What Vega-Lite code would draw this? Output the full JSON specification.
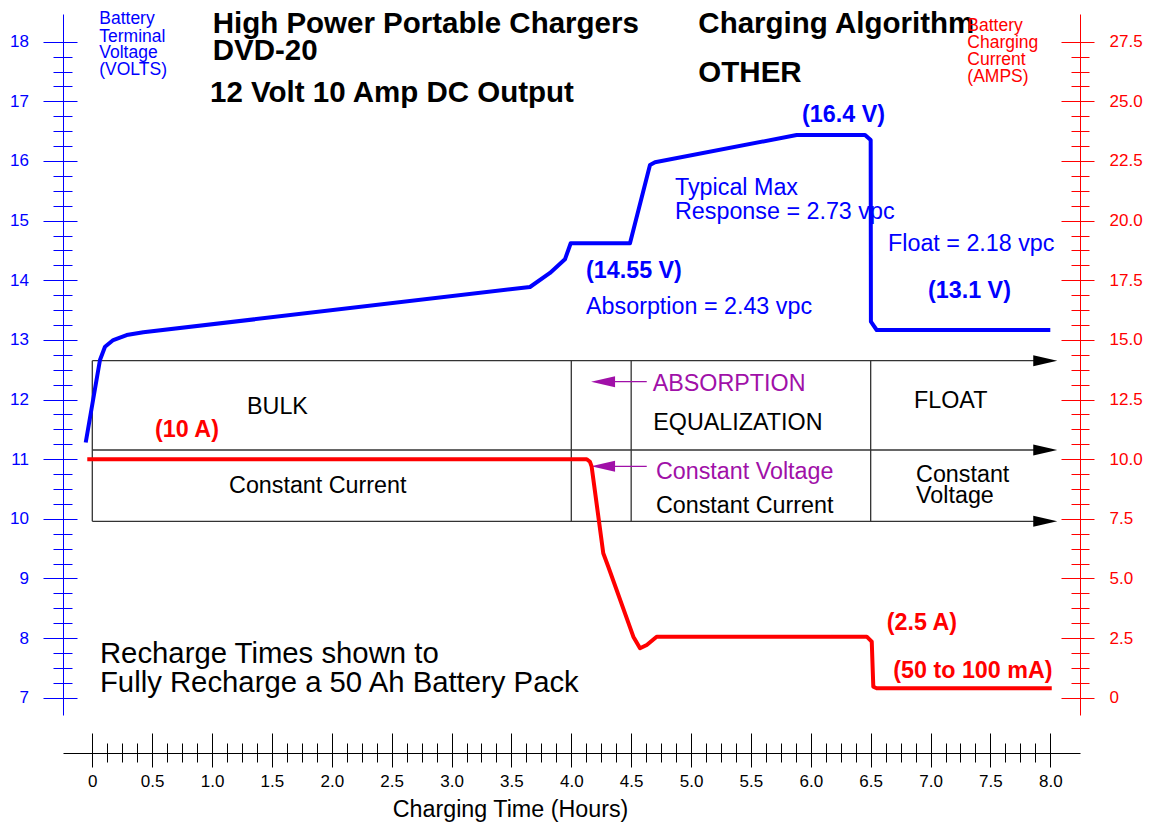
{
  "$schema": "https://vega.github.io/schema/vega-lite/v6.json",
  "width": 1017,
  "height": 701,
  "autosize": "none",
  "padding": {"left": 63, "top": 14, "right": 69, "bottom": 108},
  "background": "white",
  "config": {
    "font": "Liberation Sans",
    "view": {"stroke": null},
    "axis": {"grid": false, "labelOverlap": false, "labelFlush": false, "labelBound": false, "tickWidth": 1, "domainWidth": 1, "labelFont": "Liberation Sans", "titleFont": "Liberation Sans"}
  },
  "datasets": {
    "voltage": [
      {"t": -0.055, "v": 11.28}, {"t": 0.064, "v": 12.663}, {"t": 0.106, "v": 12.886}, {"t": 0.175, "v": 12.998},
      {"t": 0.287, "v": 13.082}, {"t": 0.426, "v": 13.127}, {"t": 3.655, "v": 13.887}, {"t": 3.822, "v": 14.122},
      {"t": 3.947, "v": 14.351}, {"t": 3.975, "v": 14.507}, {"t": 3.995, "v": 14.62}, {"t": 4.49, "v": 14.62},
      {"t": 4.657, "v": 15.933}, {"t": 4.699, "v": 15.978}, {"t": 5.882, "v": 16.436}, {"t": 6.453, "v": 16.436},
      {"t": 6.5, "v": 16.351}, {"t": 6.502, "v": 13.305}, {"t": 6.55, "v": 13.166}, {"t": 8.0, "v": 13.166}
    ],
    "current": [
      {"t": -0.042, "a": 10.0}, {"t": 4.129, "a": 10.0}, {"t": 4.156, "a": 9.89}, {"t": 4.17, "a": 9.685},
      {"t": 4.267, "a": 6.055}, {"t": 4.309, "a": 5.493}, {"t": 4.518, "a": 2.559}, {"t": 4.574, "a": 2.073},
      {"t": 4.63, "a": 2.211}, {"t": 4.713, "a": 2.559}, {"t": 6.467, "a": 2.559}, {"t": 6.509, "a": 2.349},
      {"t": 6.522, "a": 0.463}, {"t": 6.55, "a": 0.396}, {"t": 8.012, "a": 0.396}
    ],
    "boxlines": [
      {"t1": 0, "t2": 7.958, "v1": 12.651, "v2": 12.651},
      {"t1": 0, "t2": 7.958, "v1": 11.154, "v2": 11.154},
      {"t1": 0, "t2": 7.958, "v1": 9.958, "v2": 9.958},
      {"t1": 0, "t2": 0, "v1": 9.958, "v2": 12.651},
      {"t1": 4.0, "t2": 4.0, "v1": 9.958, "v2": 12.651},
      {"t1": 4.5, "t2": 4.5, "v1": 9.958, "v2": 12.651},
      {"t1": 6.5, "t2": 6.5, "v1": 9.958, "v2": 12.651}
    ],
    "arrowheads": [
      {"t": 7.958, "v": 12.651}, {"t": 7.958, "v": 11.154}, {"t": 7.958, "v": 9.958}
    ],
    "pointers": [
      {"t1": 4.265, "t2": 4.63, "v": 12.299}, {"t1": 4.265, "t2": 4.63, "v": 10.88}
    ],
    "titles": [
      {"t": 1.005, "v": 18.141, "label": "High Power Portable Chargers"},
      {"t": 1.005, "v": 17.693, "label": "DVD-20"},
      {"t": 0.983, "v": 16.994, "label": "12 Volt 10 Amp DC Output"},
      {"t": 5.061, "v": 18.141, "label": "Charging Algorithm"},
      {"t": 5.061, "v": 17.329, "label": "OTHER"}
    ],
    "vtitle": [
      {"t": 0.058, "v": 18.297, "label": "Battery"},
      {"t": 0.058, "v": 18.0, "label": "Terminal"},
      {"t": 0.058, "v": 17.722, "label": "Voltage"},
      {"t": 0.058, "v": 17.436, "label": "(VOLTS)"}
    ],
    "atitle": [
      {"t": 7.307, "v": 18.184, "label": "Battery"},
      {"t": 7.307, "v": 17.889, "label": "Charging"},
      {"t": 7.307, "v": 17.609, "label": "Current"},
      {"t": 7.307, "v": 17.324, "label": "(AMPS)"}
    ],
    "bluebold": [
      {"t": 5.927, "v": 16.654, "label": "(16.4 V)"},
      {"t": 4.123, "v": 14.033, "label": "(14.55 V)"},
      {"t": 6.979, "v": 13.703, "label": "(13.1 V)"}
    ],
    "bluetext": [
      {"t": 4.866, "v": 15.43, "label": "Typical Max"},
      {"t": 4.866, "v": 15.027, "label": "Response = 2.73 vpc"},
      {"t": 6.645, "v": 14.491, "label": "Float = 2.18 vpc"},
      {"t": 4.123, "v": 13.434, "label": "Absorption = 2.43 vpc"}
    ],
    "blacktext": [
      {"t": 1.292, "v": 11.758, "label": "BULK"},
      {"t": 1.142, "v": 10.433, "label": "Constant Current"},
      {"t": 4.685, "v": 11.489, "label": "EQUALIZATION"},
      {"t": 6.862, "v": 11.853, "label": "FLOAT"},
      {"t": 4.707, "v": 10.093, "label": "Constant Current"},
      {"t": 6.879, "v": 10.622, "label": "Constant"},
      {"t": 6.879, "v": 10.26, "label": "Voltage"}
    ],
    "magentatext": [
      {"t": 4.68, "v": 12.148, "label": "ABSORPTION"},
      {"t": 4.707, "v": 10.663, "label": "Constant Voltage"}
    ],
    "redbold": [
      {"t": 0.524, "a": 10.93, "label": "(10 A)"},
      {"t": 6.634, "a": 2.84, "label": "(2.5 A)"},
      {"t": 6.689, "a": 0.815, "label": "(50 to 100 mA)"}
    ],
    "note": [
      {"t": 0.064, "v": 7.578, "label": "Recharge Times shown to"},
      {"t": 0.064, "v": 7.101, "label": "Fully Recharge a 50 Ah Battery Pack"}
    ]
  },
  "layer": [
    {
      "data": {"name": "boxlines"},
      "mark": {"type": "rule", "color": "#333333", "strokeWidth": 1.3},
      "encoding": {
        "x": {"field": "t1", "type": "quantitative", "scale": {"domain": [-0.2447, 8.248], "nice": false, "zero": false}, "axis": null},
        "x2": {"field": "t2"},
        "y": {"field": "v1", "type": "quantitative", "scale": {"domain": [6.7106, 18.4645], "nice": false, "zero": false},
          "axis": {"orient": "right", "offset": -1017, "domain": false, "labels": false, "title": null, "tickColor": "blue",
            "values": [7,7.25,7.5,7.75,8,8.25,8.5,8.75,9,9.25,9.5,9.75,10,10.25,10.5,10.75,11,11.25,11.5,11.75,12,12.25,12.5,12.75,13,13.25,13.5,13.75,14,14.25,14.5,14.75,15,15.25,15.5,15.75,16,16.25,16.5,16.75,17,17.25,17.5,17.75,18],
            "tickSize": {"condition": {"test": "abs(datum.value - round(datum.value)) < 0.001", "value": 14}, "value": 9}}},
        "y2": {"field": "v2"}
      }
    },
    {
      "data": {"name": "arrowheads"},
      "mark": {"type": "point", "shape": "M -1 -0.46 L 1 0 L -1 0.46 Z", "size": 576, "filled": true, "color": "black", "opacity": 1},
      "encoding": {
        "x": {"field": "t", "type": "quantitative", "scale": {"domain": [-0.2447, 8.248], "nice": false, "zero": false}, "axis": null},
        "y": {"field": "v", "type": "quantitative", "scale": {"domain": [6.7106, 18.4645], "nice": false, "zero": false}, "axis": null}
      }
    },
    {
      "data": {"name": "pointers"},
      "mark": {"type": "rule", "color": "#a010a8", "strokeWidth": 1.2},
      "encoding": {
        "x": {"field": "t1", "type": "quantitative", "scale": {"domain": [-0.2447, 8.248], "nice": false, "zero": false}, "axis": null},
        "x2": {"field": "t2"},
        "y": {"field": "v", "type": "quantitative", "scale": {"domain": [6.7106, 18.4645], "nice": false, "zero": false}, "axis": null}
      }
    },
    {
      "data": {"name": "pointers"},
      "mark": {"type": "point", "shape": "M 1 -0.46 L -1 0 L 1 0.46 Z", "size": 576, "filled": true, "color": "#a010a8", "opacity": 1},
      "encoding": {
        "x": {"field": "t1", "type": "quantitative", "scale": {"domain": [-0.2447, 8.248], "nice": false, "zero": false}, "axis": null},
        "y": {"field": "v", "type": "quantitative", "scale": {"domain": [6.7106, 18.4645], "nice": false, "zero": false}, "axis": null}
      }
    },
    {
      "data": {"name": "titles"},
      "mark": {"type": "text", "align": "left", "baseline": "alphabetic", "font": "Liberation Sans", "fontSize": 29.5, "fontWeight": "bold", "color": "black"},
      "encoding": {
        "x": {"field": "t", "type": "quantitative", "scale": {"domain": [-0.2447, 8.248], "nice": false, "zero": false}, "axis": null},
        "y": {"field": "v", "type": "quantitative", "scale": {"domain": [6.7106, 18.4645], "nice": false, "zero": false}, "axis": null},
        "text": {"field": "label"}
      }
    },
    {
      "data": {"name": "vtitle"},
      "mark": {"type": "text", "align": "left", "baseline": "alphabetic", "font": "Liberation Sans", "fontSize": 17.5, "color": "blue"},
      "encoding": {
        "x": {"field": "t", "type": "quantitative", "scale": {"domain": [-0.2447, 8.248], "nice": false, "zero": false}, "axis": null},
        "y": {"field": "v", "type": "quantitative", "scale": {"domain": [6.7106, 18.4645], "nice": false, "zero": false}, "axis": null},
        "text": {"field": "label"}
      }
    },
    {
      "data": {"name": "atitle"},
      "mark": {"type": "text", "align": "left", "baseline": "alphabetic", "font": "Liberation Sans", "fontSize": 17.5, "color": "red"},
      "encoding": {
        "x": {"field": "t", "type": "quantitative", "scale": {"domain": [-0.2447, 8.248], "nice": false, "zero": false}, "axis": null},
        "y": {"field": "v", "type": "quantitative", "scale": {"domain": [6.7106, 18.4645], "nice": false, "zero": false}, "axis": null},
        "text": {"field": "label"}
      }
    },
    {
      "data": {"name": "bluebold"},
      "mark": {"type": "text", "align": "left", "baseline": "alphabetic", "font": "Liberation Sans", "fontSize": 23.3, "fontWeight": "bold", "color": "blue"},
      "encoding": {
        "x": {"field": "t", "type": "quantitative", "scale": {"domain": [-0.2447, 8.248], "nice": false, "zero": false}, "axis": null},
        "y": {"field": "v", "type": "quantitative", "scale": {"domain": [6.7106, 18.4645], "nice": false, "zero": false}, "axis": null},
        "text": {"field": "label"}
      }
    },
    {
      "data": {"name": "bluetext"},
      "mark": {"type": "text", "align": "left", "baseline": "alphabetic", "font": "Liberation Sans", "fontSize": 23.3, "color": "blue"},
      "encoding": {
        "x": {"field": "t", "type": "quantitative", "scale": {"domain": [-0.2447, 8.248], "nice": false, "zero": false}, "axis": null},
        "y": {"field": "v", "type": "quantitative", "scale": {"domain": [6.7106, 18.4645], "nice": false, "zero": false}, "axis": null},
        "text": {"field": "label"}
      }
    },
    {
      "data": {"name": "blacktext"},
      "mark": {"type": "text", "align": "left", "baseline": "alphabetic", "font": "Liberation Sans", "fontSize": 23.3, "color": "black"},
      "encoding": {
        "x": {"field": "t", "type": "quantitative", "scale": {"domain": [-0.2447, 8.248], "nice": false, "zero": false}, "axis": null},
        "y": {"field": "v", "type": "quantitative", "scale": {"domain": [6.7106, 18.4645], "nice": false, "zero": false}, "axis": null},
        "text": {"field": "label"}
      }
    },
    {
      "data": {"name": "magentatext"},
      "mark": {"type": "text", "align": "left", "baseline": "alphabetic", "font": "Liberation Sans", "fontSize": 23.3, "color": "#a010a8"},
      "encoding": {
        "x": {"field": "t", "type": "quantitative", "scale": {"domain": [-0.2447, 8.248], "nice": false, "zero": false}, "axis": null},
        "y": {"field": "v", "type": "quantitative", "scale": {"domain": [6.7106, 18.4645], "nice": false, "zero": false}, "axis": null},
        "text": {"field": "label"}
      }
    },
    {
      "data": {"name": "note"},
      "mark": {"type": "text", "align": "left", "baseline": "alphabetic", "font": "Liberation Sans", "fontSize": 29.3, "color": "black"},
      "encoding": {
        "x": {"field": "t", "type": "quantitative", "scale": {"domain": [-0.2447, 8.248], "nice": false, "zero": false}, "axis": null},
        "y": {"field": "v", "type": "quantitative", "scale": {"domain": [6.7106, 18.4645], "nice": false, "zero": false}, "axis": null},
        "text": {"field": "label"}
      }
    },
    {
      "data": {"name": "redbold"},
      "mark": {"type": "text", "align": "left", "baseline": "alphabetic", "font": "Liberation Sans", "fontSize": 23.3, "fontWeight": "bold", "color": "red"},
      "encoding": {
        "x": {"field": "t", "type": "quantitative", "scale": {"domain": [-0.2447, 8.248], "nice": false, "zero": false}, "axis": null},
        "y": {"field": "a", "type": "quantitative", "scale": {"domain": [-0.7235, 28.661], "nice": false, "zero": false},
          "axis": {"orient": "left", "offset": -1017, "domain": false, "labels": false, "title": null, "tickColor": "red",
            "values": [0,0.625,1.25,1.875,2.5,3.125,3.75,4.375,5,5.625,6.25,6.875,7.5,8.125,8.75,9.375,10,10.625,11.25,11.875,12.5,13.125,13.75,14.375,15,15.625,16.25,16.875,17.5,18.125,18.75,19.375,20,20.625,21.25,21.875,22.5,23.125,23.75,24.375,25,25.625,26.25,26.875,27.5],
            "tickSize": {"condition": {"test": "abs(datum.value/2.5 - round(datum.value/2.5)) < 0.001", "value": 19}, "value": 9}}},
        "text": {"field": "label"}
      }
    },
    {
      "data": {"name": "current"},
      "mark": {"type": "line", "color": "#ff0000", "strokeWidth": 4, "strokeJoin": "round"},
      "encoding": {
        "x": {"field": "t", "type": "quantitative", "scale": {"domain": [-0.2447, 8.248], "nice": false, "zero": false},
          "axis": {"orient": "top", "offset": -739, "domain": false, "labels": false, "title": null, "tickColor": "black",
            "values": [0,0.125,0.25,0.375,0.5,0.625,0.75,0.875,1,1.125,1.25,1.375,1.5,1.625,1.75,1.875,2,2.125,2.25,2.375,2.5,2.625,2.75,2.875,3,3.125,3.25,3.375,3.5,3.625,3.75,3.875,4,4.125,4.25,4.375,4.5,4.625,4.75,4.875,5,5.125,5.25,5.375,5.5,5.625,5.75,5.875,6,6.125,6.25,6.375,6.5,6.625,6.75,6.875,7,7.125,7.25,7.375,7.5,7.625,7.75,7.875,8],
            "tickSize": {"condition": {"test": "abs(datum.value*2 - round(datum.value*2)) < 0.001", "value": 20}, "value": 10}}},
        "y": {"field": "a", "type": "quantitative", "scale": {"domain": [-0.7235, 28.661], "nice": false, "zero": false},
          "axis": {"orient": "right", "title": null, "domainColor": "red", "tickColor": "red", "labelColor": "red", "labelFontSize": 17, "labelPadding": 15,
            "values": [0,0.625,1.25,1.875,2.5,3.125,3.75,4.375,5,5.625,6.25,6.875,7.5,8.125,8.75,9.375,10,10.625,11.25,11.875,12.5,13.125,13.75,14.375,15,15.625,16.25,16.875,17.5,18.125,18.75,19.375,20,20.625,21.25,21.875,22.5,23.125,23.75,24.375,25,25.625,26.25,26.875,27.5],
            "tickSize": {"condition": {"test": "abs(datum.value/2.5 - round(datum.value/2.5)) < 0.001", "value": 14}, "value": 9},
            "labelExpr": "abs(datum.value/2.5 - round(datum.value/2.5)) < 0.001 ? (datum.value == 0 ? '0' : format(datum.value, '.1f')) : ''"}}
      }
    },
    {
      "data": {"name": "voltage"},
      "mark": {"type": "line", "color": "#0000ff", "strokeWidth": 4, "strokeJoin": "round"},
      "encoding": {
        "x": {"field": "t", "type": "quantitative", "scale": {"domain": [-0.2447, 8.248], "nice": false, "zero": false},
          "axis": {"orient": "bottom", "offset": 38, "domainColor": "black", "tickColor": "black", "labelColor": "black", "labelFontSize": 17, "labelPadding": 6,
            "values": [0,0.125,0.25,0.375,0.5,0.625,0.75,0.875,1,1.125,1.25,1.375,1.5,1.625,1.75,1.875,2,2.125,2.25,2.375,2.5,2.625,2.75,2.875,3,3.125,3.25,3.375,3.5,3.625,3.75,3.875,4,4.125,4.25,4.375,4.5,4.625,4.75,4.875,5,5.125,5.25,5.375,5.5,5.625,5.75,5.875,6,6.125,6.25,6.375,6.5,6.625,6.75,6.875,7,7.125,7.25,7.375,7.5,7.625,7.75,7.875,8],
            "tickSize": {"condition": {"test": "abs(datum.value*2 - round(datum.value*2)) < 0.001", "value": 14}, "value": 9},
            "labelExpr": "abs(datum.value*2 - round(datum.value*2)) < 0.001 ? (datum.value == 0 ? '0' : format(datum.value, '.1f')) : ''",
            "title": "Charging Time (Hours)", "titleFontSize": 23.3, "titleFontWeight": "normal", "titleColor": "black",
            "titleX": 447, "titleY": 63, "titleBaseline": "alphabetic", "titleAlign": "center"}},
        "y": {"field": "v", "type": "quantitative", "scale": {"domain": [6.7106, 18.4645], "nice": false, "zero": false},
          "axis": {"orient": "left", "title": null, "domainColor": "blue", "tickColor": "blue", "labelColor": "blue", "labelFontSize": 17, "labelPadding": 14.5,
            "values": [7,7.25,7.5,7.75,8,8.25,8.5,8.75,9,9.25,9.5,9.75,10,10.25,10.5,10.75,11,11.25,11.5,11.75,12,12.25,12.5,12.75,13,13.25,13.5,13.75,14,14.25,14.5,14.75,15,15.25,15.5,15.75,16,16.25,16.5,16.75,17,17.25,17.5,17.75,18],
            "tickSize": {"condition": {"test": "abs(datum.value - round(datum.value)) < 0.001", "value": 20}, "value": 10},
            "labelExpr": "abs(datum.value - round(datum.value)) < 0.001 ? format(datum.value, '.0f') : ''"}}
      }
    }
  ],
  "resolve": {"scale": {"y": "independent"}, "axis": {"x": "independent", "y": "independent"}}
}
